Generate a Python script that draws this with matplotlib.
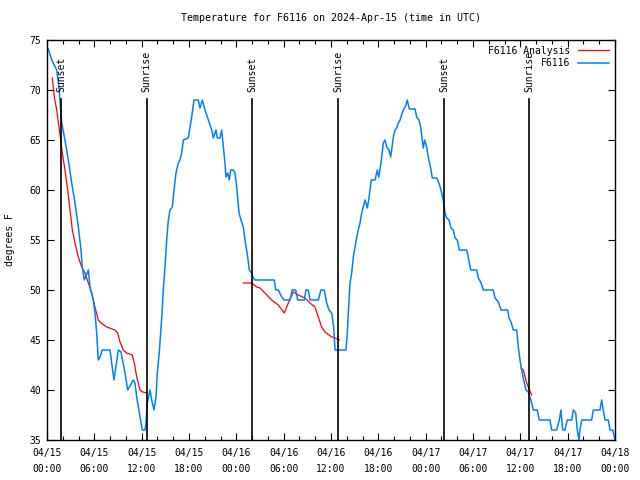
import numpy as np
import matplotlib
matplotlib.use("Agg")
import matplotlib.pyplot as plt

# hours since 2024-04-15 00:00 UTC and temperature (F)
obs_hours = [0.16, 0.6, 1.23, 1.52, 1.86, 2.28, 2.7, 3.13, 3.55, 3.97, 4.31, 4.47, 4.73, 5.24, 5.45,
             5.87, 6.08, 6.3, 6.5, 6.72, 7.0, 7.99, 8.2, 8.49, 9.04, 9.38, 9.89, 10.23, 10.94, 11.15,
             11.37, 11.79, 12.08, 12.42, 12.55, 12.71, 13.06, 13.27, 13.56, 13.82, 13.98, 14.23, 14.41,
             14.58, 14.74, 14.96, 15.17, 15.38, 15.59, 15.88, 16.1, 16.35, 16.64, 16.86, 17.07, 17.28,
             17.91, 18.13, 18.34, 18.63, 19.18, 19.39, 19.69, 20.03, 20.45, 20.88, 21.08, 21.42, 21.59,
             21.93, 22.14, 22.35, 22.56, 22.69, 22.91, 23.11, 23.29, 23.62, 23.83, 24.05, 24.34, 24.59,
             24.88, 25.1, 25.44, 25.64, 25.95, 26.15, 26.37, 28.81, 28.99, 29.32, 29.75, 30.08, 30.8,
             31.09, 31.52, 31.78, 32.62, 32.83, 33.12, 33.34, 34.39, 34.73, 35.15, 35.45, 35.75, 36.09,
             36.34, 36.51, 37.9, 38.07, 38.19, 38.41, 38.62, 38.83, 39.04, 39.26, 39.46, 39.68, 39.89,
             40.09, 40.31, 40.43, 40.6, 40.78, 40.94, 41.11, 41.58, 41.87, 42.05, 42.21, 42.43, 42.63,
             42.84, 43.06, 43.35, 43.57, 43.73, 43.9, 44.11, 44.33, 44.53, 44.75, 44.96, 45.16, 45.51,
             45.67, 45.93, 46.65, 46.86, 47.15, 47.37, 47.53, 47.7, 47.88, 48.13, 48.33, 48.68, 48.84,
             49.4, 49.69, 49.94, 50.23, 50.45, 50.67, 50.96, 51.21, 51.5, 51.72, 52.01, 52.26, 53.2,
             53.4, 53.71, 54.47, 54.67, 54.98, 55.31, 56.57, 56.79, 57.21, 57.55, 58.4, 58.56, 58.82,
             59.11, 59.54, 59.74, 59.96, 60.17, 60.42, 60.72, 61.01, 61.22, 61.44, 61.64, 62.15, 62.4,
             63.76, 63.97, 64.6, 64.94, 65.15, 65.37, 65.66, 65.95, 66.51, 66.72, 67.02, 67.22, 67.44,
             67.56, 67.78, 69.04, 69.25, 70.1, 70.31, 70.51, 70.73, 71.15, 71.37, 71.71, 72.0]
obs_temp = [74.1, 73, 72, 70.3, 66.7, 65, 63, 60.7, 58.7, 56.3, 54, 52.3, 51, 52, 50.3,
            49, 47.7, 45.7, 43, 43.3, 44, 44, 42.7, 41, 44, 43.8, 41.7, 40, 41, 40.7,
            39.3, 37.3, 36, 36, 36.7, 38.7, 40, 39, 38, 39.3, 41.7, 43.7, 45.7,
            47.7, 50, 52.3, 55, 57, 58, 58.3, 60, 61.7, 62.7, 63, 63.7, 65,
            65.2, 66.3, 67.3, 69, 69, 68.2, 69, 68, 67, 66, 65.2, 66, 65.2,
            65.2, 66, 64.3, 62.7, 61.3, 61.7, 61, 62, 62, 61.7, 60.3, 57.7, 57,
            56.3, 55, 53.3, 52, 51.7, 51.2, 51, 51, 50, 50, 49.3, 49, 49,
            50, 50, 49, 49, 50, 50, 49, 49, 50, 50, 48.7, 48, 47.7,
            46.3, 44, 44, 45.7, 47.7, 50.7, 51.7, 53.3, 54.3, 55.3, 56, 56.7, 57.7,
            58.3, 59, 58.7, 58.2, 59, 60, 61, 61, 62, 61.3, 62, 63.3, 64.7,
            65, 64.3, 64, 63.3, 64.3, 65.3, 66, 66.2, 66.7, 67, 67.5, 68, 68.5,
            69, 68.1, 68.1, 67.3, 67, 66.3, 65.3, 64.2, 65, 64.3, 63.3, 62, 61.2,
            61.2, 60.7, 60, 59, 57.7, 57.2, 57, 56.2, 56, 55.2, 55, 54, 54,
            53.3, 52, 52, 51.2, 50.8, 50, 50, 49.2, 48.8, 48, 48, 47.2, 46.8,
            46, 46, 44.3, 43, 42, 41, 40, 39.8, 39.3, 38.7, 38, 38, 37,
            37, 36, 36, 37, 38, 36, 36, 37, 37, 38, 37.7, 36, 35,
            36, 37, 37, 38, 38, 39, 38, 37, 37, 36, 36, 35]

# analysis comes in three pieces
ana_hours = [
    [0.67, 0.93, 1.23, 1.52, 1.74, 1.94, 2.28, 2.62, 2.92, 3.21, 3.55, 3.97, 4.4, 4.82, 5.24, 5.67,
     6.08, 6.5, 6.85, 7.57, 8.62, 8.96, 9.25, 9.67, 10.1, 10.81, 11.07, 11.37, 11.57, 11.79, 12.13, 12.64],
    [24.88, 25.95, 26.58, 27.0, 27.63, 28.48, 29.32, 30.08, 30.59, 31.22, 31.85, 32.7, 33.34, 33.97,
     34.39, 34.82, 35.24, 36.09, 36.51, 37.05],
    [60.08, 60.38, 60.8, 61.44],
]
ana_temp = [
    [71.2, 69.3, 68, 66.3, 65, 63.7, 62, 60, 58, 56, 54.7, 53.3, 52.3, 51.7, 50.7, 49.7,
     48.3, 47, 46.7, 46.3, 46, 45.7, 44.8, 44, 43.7, 43.5, 42.7, 41.3, 40.7, 40, 39.8, 39.7],
    [50.7, 50.7, 50.3, 50.2, 49.7, 49, 48.5, 47.7, 48.7, 49.8, 49.5, 49.2, 48.7, 48.3,
     47.3, 46.3, 45.8, 45.3, 45.2, 45],
    [42.2, 42, 40.7, 39.5],
]

sun_hours = [1.77, 12.63, 26.03, 36.93, 50.37, 61.14]
sun_labels = ["Sunset", "Sunrise", "Sunset", "Sunrise", "Sunset", "Sunrise"]

tick_hours = list(range(0, 73, 6))
tick_labels = ["04/15\n00:00", "04/15\n06:00", "04/15\n12:00", "04/15\n18:00",
               "04/16\n00:00", "04/16\n06:00", "04/16\n12:00", "04/16\n18:00",
               "04/17\n00:00", "04/17\n06:00", "04/17\n12:00", "04/17\n18:00",
               "04/18\n00:00"]

plt.rcParams["font.family"] = ["DejaVu Sans Mono"]
plt.rcParams["font.size"] = 7

fig = plt.figure(figsize=(6.4, 4.8), dpi=100)
ax = fig.add_axes([47 / 640, 40 / 480, 568 / 640, 400 / 480])

for i in range(len(ana_hours)):
    ax.plot(ana_hours[i], ana_temp[i], color="#ff0000", lw=0.9,
            label="F6116 Analysis" if i == 0 else None)
ax.plot(obs_hours, obs_temp, color="#0080ff", lw=1.1, label="F6116")

for h, lab in zip(sun_hours, sun_labels):
    ax.plot([h, h], [35, 69.1], color="black", lw=1.2)
    ax.text(h, 69.8, lab, rotation=90, ha="center", va="bottom")

ax.set_xlim(0, 72)
ax.set_ylim(35, 75)
ax.set_xticks(tick_hours)
ax.set_xticklabels(tick_labels, linespacing=1.75)
ax.set_xticks(range(0, 73, 2), minor=True)
ax.set_yticks(range(35, 76, 5))
ax.tick_params(direction="in", top=True, right=True, length=5, width=0.8, pad=4)
ax.tick_params(axis="x", pad=6)
ax.tick_params(which="minor", direction="in", top=True, right=True, length=3, width=0.8)
for s in ax.spines.values():
    s.set_linewidth(1.0)

ax.set_ylabel("degrees F")
ax.yaxis.set_label_coords(-0.056, 0.5)
ax.set_title("Temperature for F6116 on 2024-Apr-15 (time in UTC)", pad=14, fontsize=7.2)

leg = ax.legend(loc="upper right", frameon=False, markerfirst=False, handlelength=3.2,
                borderaxespad=0.2, labelspacing=0.25, handletextpad=0.8)

fig.savefig("out.png", dpi=100)
